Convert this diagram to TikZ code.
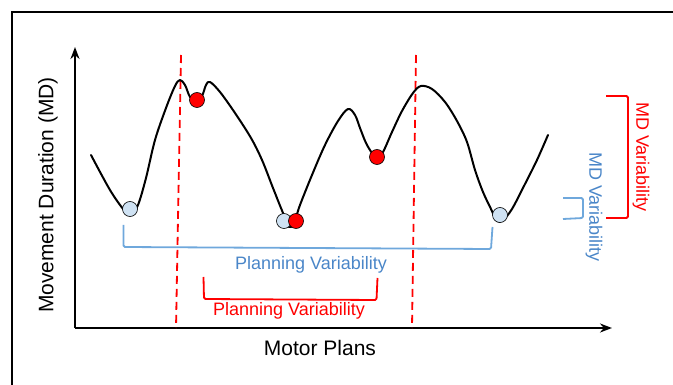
\documentclass[tikz,border=0pt]{standalone}
\usepackage{fontspec}
\setmainfont{Liberation Sans}
\usetikzlibrary{arrows.meta}
\definecolor{ballred}{HTML}{FF0000}
\definecolor{ballblue}{HTML}{CFE2F3}
\definecolor{planblue}{HTML}{6FA8DC}
\definecolor{textblue}{HTML}{4A86C8}
\tikzset{
  axis/.style={line width=2pt, -{Stealth[length=12pt, width=9pt]}},
  landscape/.style={line width=2pt, line join=round, line cap=round},
  boundary/.style={draw=ballred, line width=1.8pt, dash pattern=on 8pt off 5pt},
  ball/.style={circle, draw=black, line width=0.6pt, minimum size=15pt, inner sep=0pt},
  redbracket/.style={draw=ballred, line width=1.8pt, rounded corners=1.5pt},
  bluebracket/.style={draw=planblue, line width=1.8pt, rounded corners=1.5pt},
  axislabel/.style={font=\fontsize{21}{25}\selectfont},
  varlabel/.style={font=\fontsize{18}{22}\selectfont}
}

\begin{document}
\begin{tikzpicture}[x=1pt, y=-1pt]
  \useasboundingbox (0,0) rectangle (673,385);
  % frame
  \draw[line width=1.5pt] (673,12) -- (12,12) -- (12,385);

  % axes
  \coordinate (origin) at (75,328);
  \coordinate (ytip) at (75,47);
  \coordinate (xtip) at (612,328);
  \draw[axis] (origin) -- (ytip);
  \draw[axis] (origin) -- (xtip);
  \node[axislabel, rotate=90] (ylabel) at (48,195) {Movement Duration (MD)};
  \node[axislabel] (xlabel) at (320,348) {Motor Plans};

  % boundaries
  \coordinate (lefttop) at (181,55);
  \coordinate (leftbot) at (176,328);
  \coordinate (righttop) at (416,55);
  \coordinate (rightbot) at (412,328);
  \draw[boundary] (lefttop) -- (leftbot);
  \draw[boundary] (righttop) -- (rightbot);

  % landscape
  \draw[landscape] plot[smooth, tension=0.55] coordinates {
    (91,155) (110,190) (124,210) (131,214) (138,205) (146,178) (155,140)
    (166,108) (175,86) (180,80) (185,85) (190,97) (196,101) (202,96)
    (206,85) (210,82) (220,92) (235,113) (251,138) (262,160) (273,188)
    (283,213) (289,227) (294,223) (300,205) (312,175) (325,145) (338,121)
    (348,109) (355,115) (360,128) (366,143) (372,153) (377,158) (383,152)
    (392,132) (402,111) (413,93) (421,86) (432,89) (445,102) (457,121)
    (467,142) (475,170) (483,192) (491,209) (497,221) (503,220) (512,209)
    (525,184) (537,160) (548,135)};

  % balls
  \node[ball, fill=ballblue] (blueA) at (130,209) {};
  \node[ball, fill=ballred] (redA) at (197,100) {};
  \node[ball, fill=ballblue] (blueB) at (284,221) {};
  \node[ball, fill=ballred] (redB) at (296,221) {};
  \node[ball, fill=ballred] (redC) at (377,157) {};
  \node[ball, fill=ballblue] (blueC) at (500,215) {};

  % planning variability
  \draw[bluebracket] (123.5,225) -- (123.5,247) -- (491,249) -- (492.5,227);
  \node[varlabel, text=textblue] (blueplan) at (311,265) {Planning Variability};
  \draw[redbracket] (203.5,277) -- (204,299) -- (376.5,300) -- (377.5,278);
  \node[varlabel, text=ballred] (redplan) at (289,311) {Planning Variability};

  % MD variability
  \draw[redbracket] (606,96) -- (628,96) -- (628,218) -- (606,218);
  \node[varlabel, text=ballred, rotate=-90] (redmd) at (641,157) {MD Variability};
  \draw[bluebracket] (563,198) -- (583,198) -- (583,218) -- (563,219);
  \node[varlabel, text=textblue, rotate=-90] (bluemd) at (594,207) {MD Variability};
\end{tikzpicture}
\end{document}
